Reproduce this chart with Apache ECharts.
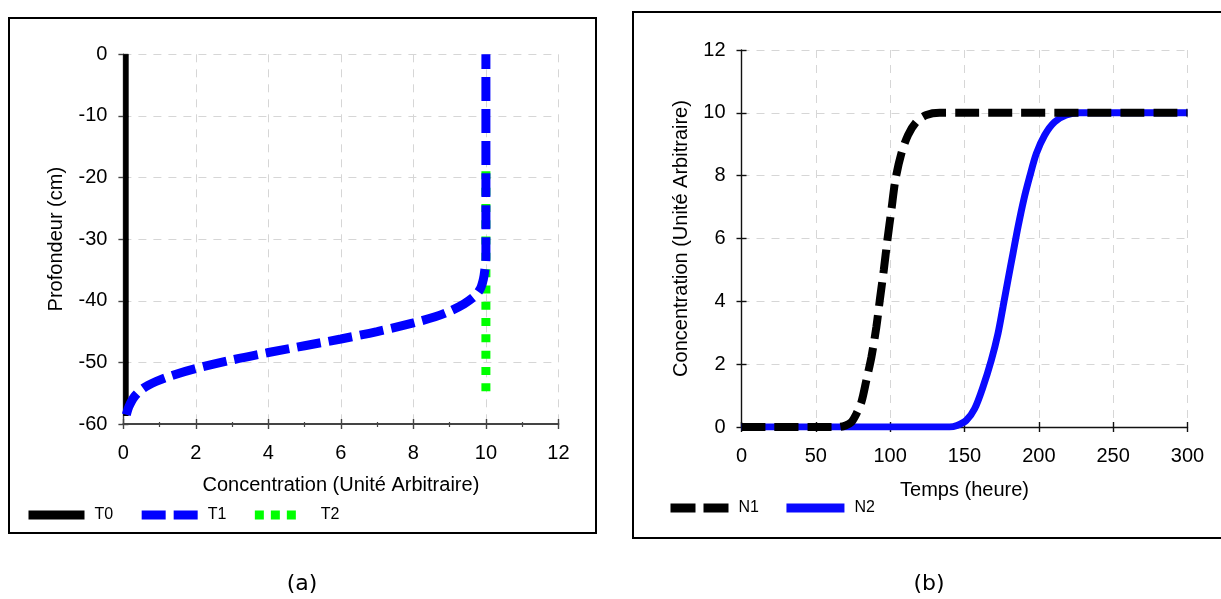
<!DOCTYPE html>
<html>
<head>
<meta charset="utf-8">
<script src="https://cdn.jsdelivr.net/npm/echarts@6/dist/echarts.min.js"></script>
<style>
html,body{margin:0;padding:0;background:#fff;}
#c{width:1221px;height:599px;}
</style>
</head>
<body>
<div id="c"></div>
<script>
// ---------- Data (panel a) ----------
const namesA = ['T0', 'T1', 'T2'];
const seriesT0 = [[0.07, 0], [0.07, -58.7]];
const seriesT1 = [
  [0.08, -58.5], [0.15, -57.2], [0.3, -55.6], [0.55, -54.2], [0.9, -53.1], [1.3, -52.2],
  [2.0, -51.0], [3.0, -49.6], [4.0, -48.4], [5.0, -47.3], [6.0, -46.2], [7.0, -45.0],
  [8.0, -43.6], [8.6, -42.6], [9.0, -41.7], [9.4, -40.5], [9.7, -39.2], [9.85, -38.0],
  [9.93, -36.5], [9.97, -35.0], [10, -33], [10, 0]
];
const seriesT2 = [[10, -19], [10, -56]];
const axisXA = { min: 0, max: 12, interval: 2, title: 'Concentration (Unité Arbitraire)' };
const axisYA = { min: -60, max: 0, interval: 10, title: 'Profondeur (cm)' };

// ---------- Data (panel b) ----------
const namesB = ['N1', 'N2'];
const seriesN1 = [
  [0, 0], [65, 0], [70, 0.05], [74, 0.16], [77.3, 0.42], [80.7, 0.8], [84, 1.49], [87.4, 2.23],
  [90.7, 3.18], [93, 4.03], [95.7, 4.99], [98.1, 5.94], [100.8, 6.9], [103.5, 7.86],
  [107.5, 8.7], [112, 9.29], [117.6, 9.71], [124.4, 9.93], [133.3, 10], [300, 10]
];
const seriesN2 = [
  [0, 0], [140, 0], [145, 0.05], [151.2, 0.21], [156.8, 0.58], [162.4, 1.27], [168, 2.12],
  [172.5, 2.97], [175.9, 3.82], [179.2, 4.67], [182.6, 5.52], [186, 6.37], [189.8, 7.22],
  [193.8, 7.96], [198.3, 8.7], [203.9, 9.29], [210.6, 9.71], [218.5, 9.93], [227.4, 10], [300, 10]
];
const axisXB = { min: 0, max: 300, interval: 50, title: 'Temps (heure)' };
const axisYB = { min: 0, max: 12, interval: 2, title: 'Concentration (Unité Arbitraire)' };
const captions = ['(a)', '(b)'];

// ---------- Styling ----------
const FONT = "'Liberation Sans', Arial, sans-serif";
const GRID_LINE = { show: true, lineStyle: { color: '#d6d6d6', type: [8, 7], width: 1 } };

function mainAxis(gridIndex, ax, color, isX, labelMargin, nameGap, minor, axisWidth) {
  return {
    gridIndex, type: 'value', min: ax.min, max: ax.max, interval: ax.interval,
    position: isX ? 'bottom' : 'left',
    axisLine: { show: true, onZero: false, lineStyle: { color, width: axisWidth } },
    axisTick: { show: true, length: 5, lineStyle: { color, width: 1.4 } },
    minorTick: { show: !!minor, splitNumber: 2, length: 3, lineStyle: { color, width: 1.2 } },
    axisLabel: { color: '#000', fontSize: 20, fontFamily: FONT, margin: labelMargin },
    splitLine: GRID_LINE,
    name: ax.title, nameLocation: 'middle', nameGap,
    nameTextStyle: { color: '#000', fontSize: 20, fontFamily: FONT }
  };
}
function innerTickAxis(gridIndex, ax, color, isX, minor) {
  return {
    gridIndex, type: 'value', min: ax.min, max: ax.max, interval: ax.interval,
    position: isX ? 'bottom' : 'left',
    axisLine: { show: false, onZero: false },
    axisTick: { show: true, inside: true, length: 5, lineStyle: { color, width: 1.4 } },
    minorTick: { show: !!minor, splitNumber: 2, length: 2, lineStyle: { color, width: 1.2 } },
    axisLabel: { show: false },
    splitLine: { show: false }
  };
}

const chart = echarts.init(document.getElementById('c'), null, { renderer: 'canvas' });

const option = {
  animation: false,
  backgroundColor: '#fff',
  grid: [
    { left: 123.4, top: 54.3, width: 435, height: 369.7 },
    { left: 741.5, top: 50, width: 446, height: 377 }
  ],
  xAxis: [
    mainAxis(0, axisXA, '#444', true, 19, 51, true, 2),
    innerTickAxis(0, axisXA, '#444', true, true),
    mainAxis(1, axisXB, '#111', true, 19, 53, false, 1.4),
    innerTickAxis(1, axisXB, '#111', true, false)
  ],
  yAxis: [
    mainAxis(0, axisYA, '#444', false, 16, 57, false, 1.4),
    innerTickAxis(0, axisYA, '#444', false, false),
    mainAxis(1, axisYB, '#111', false, 16, 50, false, 1.4),
    innerTickAxis(1, axisYB, '#111', false, false)
  ],
  legend: [
    {
      data: [
        { name: namesA[0], lineStyle: { width: 9, type: 'solid' } },
        { name: namesA[1], lineStyle: { width: 9, type: [24, 8] } },
        { name: namesA[2], lineStyle: { width: 9, type: [9, 7, 9, 7, 9, 40] } }
      ],
      left: 19, top: 502, itemWidth: 56, itemHeight: 16, itemGap: 24,
      selectedMode: false,
      itemStyle: { opacity: 0 },
      textStyle: { color: '#000', fontSize: 16, fontFamily: FONT, padding: [0, 0, 0, 5] }
    },
    {
      data: [
        { name: namesB[0], lineStyle: { width: 9, type: [25, 8] } },
        { name: namesB[1], lineStyle: { width: 9, type: 'solid' } }
      ],
      left: 661, top: 495, itemWidth: 58, itemHeight: 16, itemGap: 23,
      selectedMode: false,
      itemStyle: { opacity: 0 },
      textStyle: { color: '#000', fontSize: 16, fontFamily: FONT, padding: [0, 0, 0, 5] }
    }
  ],
  series: [
    { type: 'line', name: namesA[0], xAxisIndex: 0, yAxisIndex: 0, data: seriesT0,
      symbol: 'none', showSymbol: false, z: 3,
      lineStyle: { color: '#000', width: 5.5 }, itemStyle: { color: '#000' } },
    { type: 'line', name: namesA[2], xAxisIndex: 0, yAxisIndex: 0, data: seriesT2,
      symbol: 'none', showSymbol: false, z: 3,
      lineStyle: { color: '#00ff00', width: 9, type: [8, 8.3] }, itemStyle: { color: '#00ff00' } },
    { type: 'line', name: namesA[1], xAxisIndex: 0, yAxisIndex: 0, data: seriesT1,
      symbol: 'none', showSymbol: false, z: 4, smooth: 0.3,
      lineStyle: { color: '#0000ff', width: 9, type: [24, 8] }, itemStyle: { color: '#0000ff' } },
    { type: 'line', name: namesB[1], xAxisIndex: 2, yAxisIndex: 2, data: seriesN2,
      symbol: 'none', showSymbol: false, z: 3, smooth: 0.3,
      lineStyle: { color: '#0a0aff', width: 7 }, itemStyle: { color: '#0000ff' } },
    { type: 'line', name: namesB[0], xAxisIndex: 2, yAxisIndex: 2, data: seriesN1,
      symbol: 'none', showSymbol: false, z: 4, smooth: 0.3,
      lineStyle: { color: '#000', width: 8, type: [24, 9] }, itemStyle: { color: '#000' } }
  ],
  graphic: [
    { type: 'rect', silent: true, z: 100, shape: { x: 9, y: 18, width: 587, height: 515 },
      style: { fill: 'none', stroke: '#000', lineWidth: 2 } },
    { type: 'rect', silent: true, z: 100, shape: { x: 633, y: 12, width: 620, height: 526 },
      style: { fill: 'none', stroke: '#000', lineWidth: 2 } },
    { type: 'text', silent: true, x: 302, y: 584,
      style: { text: captions[0], fontSize: 22, fontFamily: "'DejaVu Sans', Verdana, sans-serif",
        fill: '#000', align: 'center', verticalAlign: 'middle', textAlign: 'center', textVerticalAlign: 'middle' } },
    { type: 'text', silent: true, x: 929, y: 584,
      style: { text: captions[1], fontSize: 22, fontFamily: "'DejaVu Sans', Verdana, sans-serif",
        fill: '#000', align: 'center', verticalAlign: 'middle', textAlign: 'center', textVerticalAlign: 'middle' } }
  ]
};
chart.setOption(option);
</script>
</body>
</html>
